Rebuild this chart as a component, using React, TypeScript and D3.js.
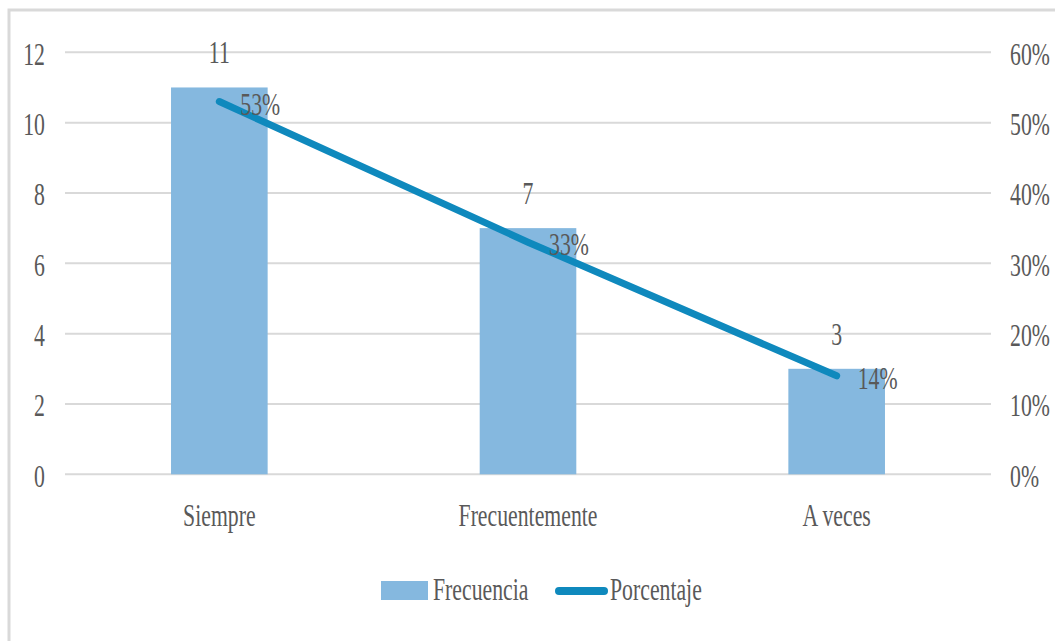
import React from 'react';
import * as d3 from 'd3';

// data
const categories = ['Siempre', 'Frecuentemente', 'A veces'];
const frecuencia = [11, 7, 3];
const porcentaje = [0.53, 0.33, 0.14];
const leftTicks = [0, 2, 4, 6, 8, 10, 12];
const rightTicks = [0, 0.1, 0.2, 0.3, 0.4, 0.5, 0.6];
const legendLabels = ['Frecuencia', 'Porcentaje'];

const W = 1055;
const H = 641;
const plot = { left: 65, right: 991, top: 52.3, bottom: 474.3 };

const textColor = '#595959';
const gridColor = '#d9d9d9';
const barColor = '#85b8df';
const lineColor = '#0f89bd';

// the reference uses a narrow serif, so stretch text horizontally down
const Label = ({ x, y, anchor = 'middle', children }: any) => (
  <text
    transform={`translate(${x},${y}) scale(0.68,1)`}
    textAnchor={anchor}
    fontFamily="'Liberation Serif', 'Times New Roman', serif"
    fontSize={32}
    fill={textColor}
  >
    {children}
  </text>
);

export default function App() {
  const x = d3
    .scaleBand<string>()
    .domain(categories)
    .range([plot.left, plot.right])
    .paddingInner(0.687)
    .paddingOuter(0.3435);

  const yLeft = d3.scaleLinear().domain([0, 12]).range([plot.bottom, plot.top]);
  const yRight = d3.scaleLinear().domain([0, 0.6]).range([plot.bottom, plot.top]);

  const cx = (c: string) => (x(c) as number) + x.bandwidth() / 2;

  const line = d3
    .line<number>()
    .x((_, i) => cx(categories[i]))
    .y((d) => yRight(d));

  const pct = d3.format('.0%');

  return (
    <svg
      width={W}
      height={H}
      style={{ position: 'absolute', left: 0, top: 0, background: '#fff' }}
    >
      <rect x={9} y={10} width={W + 20} height={H + 20} fill="#fff" stroke={gridColor} strokeWidth={3} />

      {/* gridlines + axis labels */}
      {leftTicks.map((t) => (
        <line key={'g' + t} x1={plot.left} x2={plot.right} y1={yLeft(t)} y2={yLeft(t)} stroke={gridColor} strokeWidth={2} />
      ))}
      {leftTicks.map((t) => (
        <Label key={'l' + t} x={45} y={yLeft(t) + 12.5} anchor="end">{t}</Label>
      ))}
      {rightTicks.map((t) => (
        <Label key={'r' + t} x={1010} y={yRight(t) + 12.5} anchor="start">{pct(t)}</Label>
      ))}

      {/* bars */}
      {categories.map((c, i) => (
        <rect
          key={'b' + c}
          x={x(c)}
          y={yLeft(frecuencia[i])}
          width={x.bandwidth()}
          height={yLeft(0) - yLeft(frecuencia[i])}
          fill={barColor}
        />
      ))}
      {categories.map((c, i) => (
        <Label key={'v' + c} x={cx(c)} y={yLeft(frecuencia[i]) - 24}>{frecuencia[i]}</Label>
      ))}

      {/* percentage line */}
      <path d={line(porcentaje) as string} fill="none" stroke={lineColor} strokeWidth={7} strokeLinecap="round" strokeLinejoin="round" />
      {categories.map((c, i) => (
        <Label key={'p' + c} x={cx(c) + 21} y={yRight(porcentaje[i]) + 13} anchor="start">{pct(porcentaje[i])}</Label>
      ))}

      {/* category labels */}
      {categories.map((c) => (
        <Label key={'c' + c} x={cx(c)} y={526}>{c}</Label>
      ))}

      {/* legend */}
      <rect x={381} y={581} width={47} height={19} fill={barColor} />
      <Label x={433} y={600} anchor="start">{legendLabels[0]}</Label>
      <line x1={559} x2={604} y1={591} y2={591} stroke={lineColor} strokeWidth={8} strokeLinecap="round" />
      <Label x={610} y={600} anchor="start">{legendLabels[1]}</Label>
    </svg>
  );
}
